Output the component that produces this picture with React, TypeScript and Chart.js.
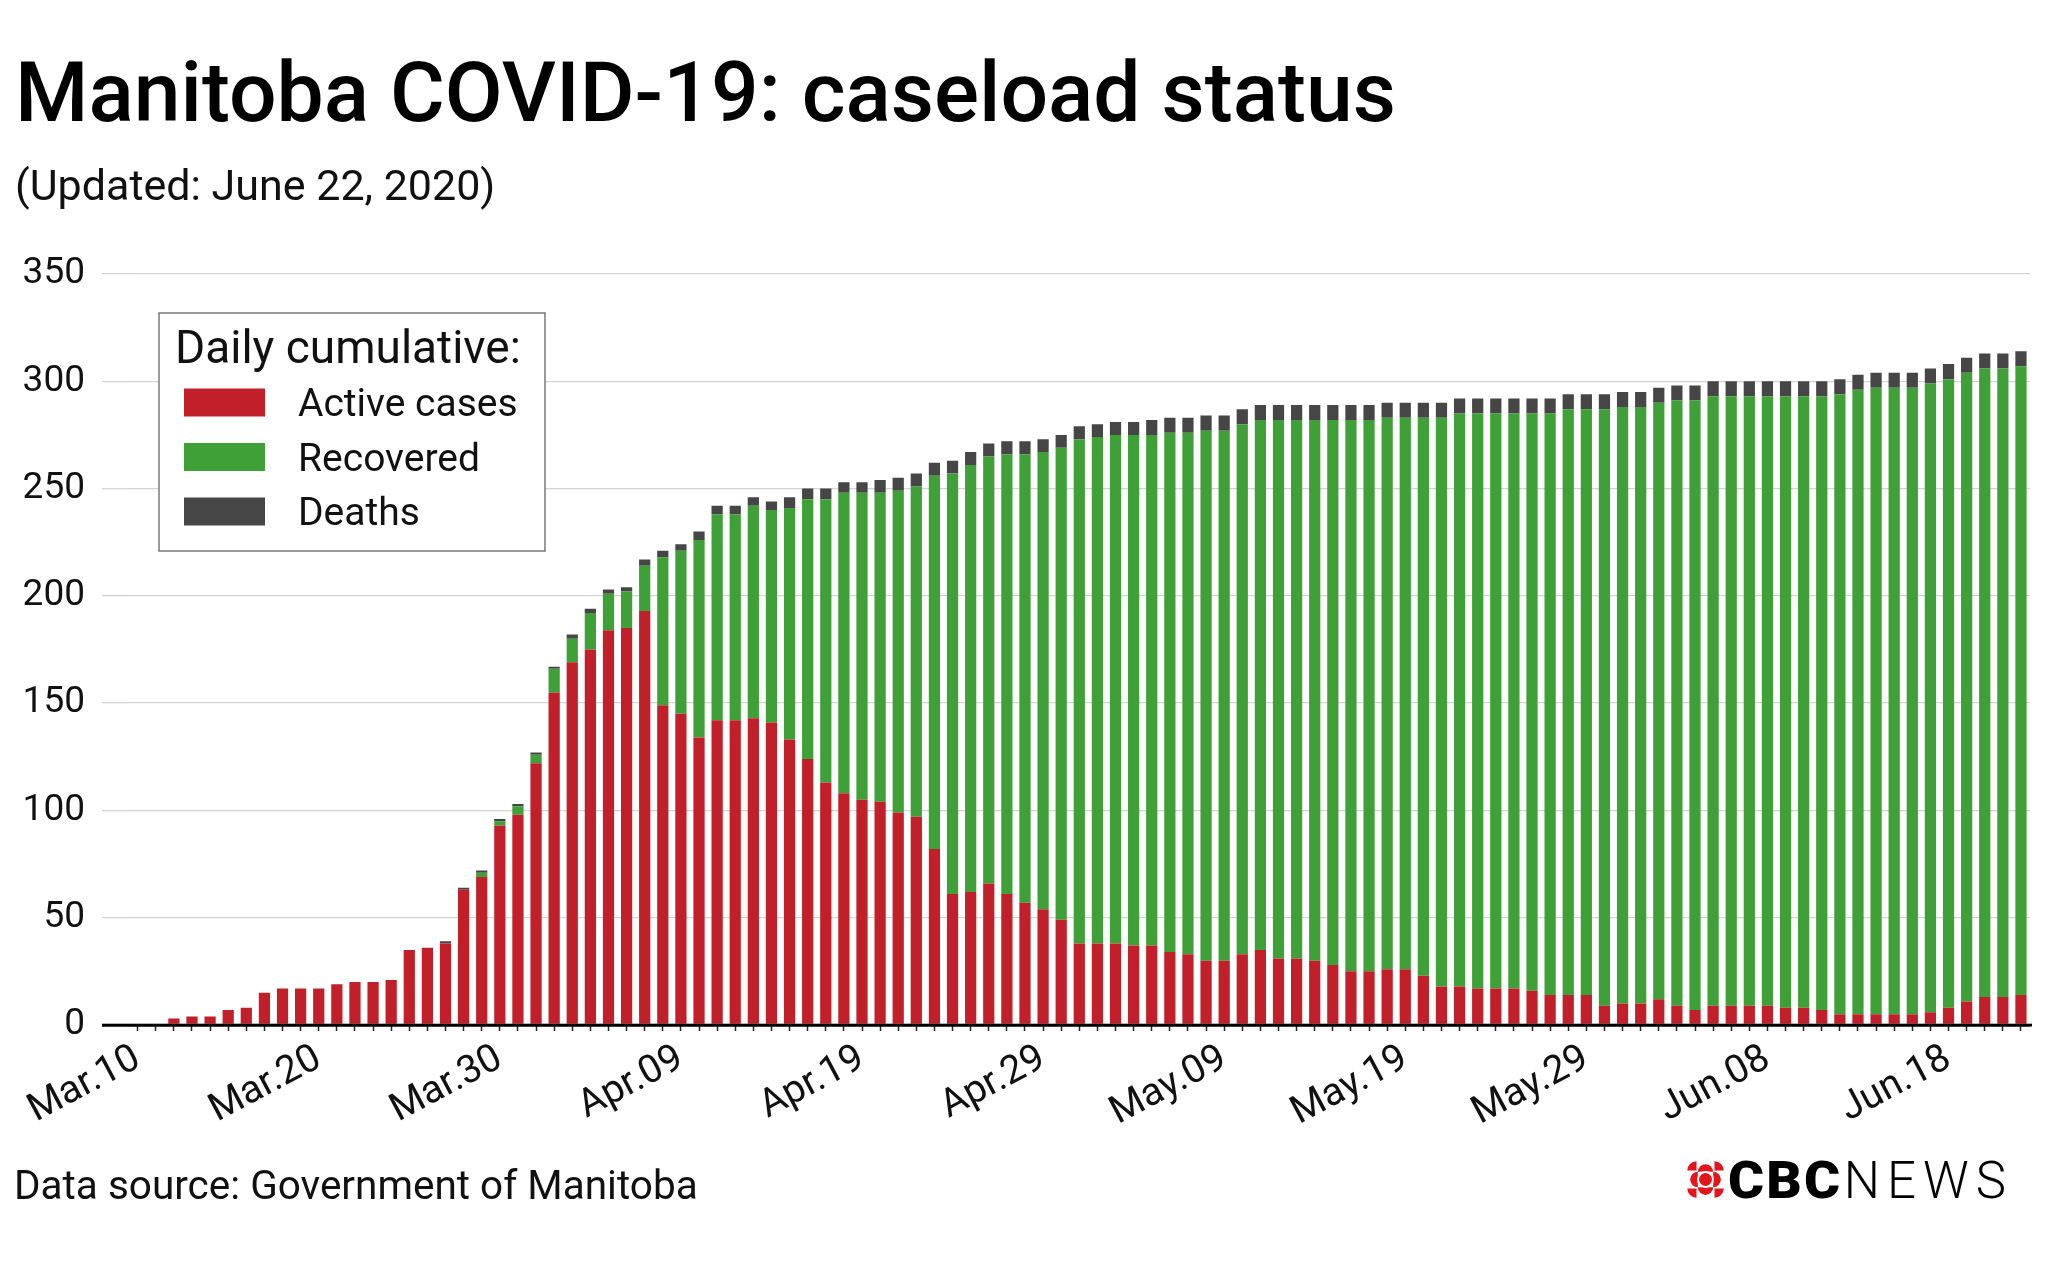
import React, { useEffect, useRef } from 'react';
import { Chart, registerables } from 'chart.js';

Chart.register(...registerables);

const dates: string[] = [
  'Mar.10','Mar.11','Mar.12','Mar.13','Mar.14','Mar.15','Mar.16','Mar.17','Mar.18','Mar.19',
  'Mar.20','Mar.21','Mar.22','Mar.23','Mar.24','Mar.25','Mar.26','Mar.27','Mar.28','Mar.29',
  'Mar.30','Mar.31','Apr.01','Apr.02','Apr.03','Apr.04','Apr.05','Apr.06','Apr.07','Apr.08',
  'Apr.09','Apr.10','Apr.11','Apr.12','Apr.13','Apr.14','Apr.15','Apr.16','Apr.17','Apr.18',
  'Apr.19','Apr.20','Apr.21','Apr.22','Apr.23','Apr.24','Apr.25','Apr.26','Apr.27','Apr.28',
  'Apr.29','Apr.30','May.01','May.02','May.03','May.04','May.05','May.06','May.07','May.08',
  'May.09','May.10','May.11','May.12','May.13','May.14','May.15','May.16','May.17','May.18',
  'May.19','May.20','May.21','May.22','May.23','May.24','May.25','May.26','May.27','May.28',
  'May.29','May.30','May.31','Jun.01','Jun.02','Jun.03','Jun.04','Jun.05','Jun.06','Jun.07',
  'Jun.08','Jun.09','Jun.10','Jun.11','Jun.12','Jun.13','Jun.14','Jun.15','Jun.16','Jun.17',
  'Jun.18','Jun.19','Jun.20','Jun.21','Jun.22',
];

const activeCases: number[] = [
  0, 0, 3, 4, 4, 7, 8, 15, 17, 17,
  17, 19, 20, 20, 21, 35, 36, 38, 63, 69,
  93, 98, 122, 155, 169, 175, 184, 185, 193, 149,
  145, 134, 142, 142, 143, 141, 133, 124, 113, 108,
  105, 104, 99, 97, 82, 61, 62, 66, 61, 57,
  54, 49, 38, 38, 38, 37, 37, 34, 33, 30,
  30, 33, 35, 31, 31, 30, 28, 25, 25, 26,
  26, 23, 18, 18, 17, 17, 17, 16, 14, 14,
  14, 9, 10, 10, 12, 9, 7, 9, 9, 9,
  9, 8, 8, 7, 5, 5, 5, 5, 5, 6,
  8, 11, 13, 13, 14,
];

const recovered: number[] = [
  0, 0, 0, 0, 0, 0, 0, 0, 0, 0,
  0, 0, 0, 0, 0, 0, 0, 0, 0, 2,
  2, 4, 4, 11, 11, 17, 17, 17, 21, 69,
  76, 92, 96, 96, 99, 99, 108, 121, 132, 140,
  143, 144, 150, 154, 174, 196, 199, 199, 205, 209,
  213, 220, 235, 236, 237, 238, 238, 242, 243, 247,
  247, 247, 247, 251, 251, 252, 254, 257, 257, 257,
  257, 260, 265, 267, 268, 268, 268, 269, 271, 273,
  273, 278, 278, 278, 278, 282, 284, 284, 284, 284,
  284, 285, 285, 286, 289, 291, 292, 292, 292, 293,
  293, 293, 293, 293, 293,
];

const deaths: number[] = [
  0, 0, 0, 0, 0, 0, 0, 0, 0, 0,
  0, 0, 0, 0, 0, 0, 0, 1, 1, 1,
  1, 1, 1, 1, 2, 2, 2, 2, 3, 3,
  3, 4, 4, 4, 4, 4, 5, 5, 5, 5,
  5, 6, 6, 6, 6, 6, 6, 6, 6, 6,
  6, 6, 6, 6, 6, 6, 7, 7, 7, 7,
  7, 7, 7, 7, 7, 7, 7, 7, 7, 7,
  7, 7, 7, 7, 7, 7, 7, 7, 7, 7,
  7, 7, 7, 7, 7, 7, 7, 7, 7, 7,
  7, 7, 7, 7, 7, 7, 7, 7, 7, 7,
  7, 7, 7, 7, 7,
];

const seriesNames: string[] = ['Active cases', 'Recovered', 'Deaths'];
const seriesColors: string[] = ['#c1202a', '#3fa037', '#464646'];
const yTicks: number[] = [0, 50, 100, 150, 200, 250, 300, 350];
const labelEvery = 10;

const FONT = 'Roboto, "Noto Sans", sans-serif';

const legendBoxPlugin = {
  id: 'legendBox',
  afterDraw(chart: any) {
    const ctx = chart.ctx as CanvasRenderingContext2D;
    ctx.save();
    const x0 = 159, y0 = 313, w = 386, h = 238;
    ctx.fillStyle = '#ffffff';
    ctx.fillRect(x0, y0, w, h);
    ctx.strokeStyle = '#7a7a7a';
    ctx.lineWidth = 1.5;
    ctx.strokeRect(x0, y0, w, h);
    ctx.fillStyle = '#111';
    ctx.textBaseline = 'alphabetic';
    ctx.textAlign = 'left';
    ctx.font = `46px ${FONT}`;
    ctx.fillText('Daily cumulative:', 175, 363);
    ctx.font = `39px ${FONT}`;
    chart.data.datasets.forEach((ds: any, i: number) => {
      const rowY = 388.5 + i * 54.5;
      ctx.fillStyle = ds.backgroundColor;
      ctx.fillRect(184, rowY, 81, 28);
      ctx.fillStyle = '#111';
      ctx.fillText(ds.label, 298, rowY + 27.5);
    });
    ctx.restore();
  },
};

const zeroLinePlugin = {
  id: 'zeroLine',
  afterDatasetsDraw(chart: any) {
    const ctx = chart.ctx as CanvasRenderingContext2D;
    const y = chart.scales.y.getPixelForValue(0);
    ctx.save();
    ctx.fillStyle = '#000';
    ctx.fillRect(102, y - 1.3, chart.chartArea.right + 2 - 102, 2.8);
    ctx.restore();
  },
};

function ChartCanvas() {
  const ref = useRef<HTMLCanvasElement | null>(null);
  useEffect(() => {
    if (!ref.current) return;
    Chart.defaults.font.family = FONT;
    const chart = new Chart(ref.current, {
      type: 'bar',
      data: {
        labels: dates,
        datasets: [
          { label: seriesNames[0], data: activeCases, backgroundColor: seriesColors[0] },
          { label: seriesNames[1], data: recovered, backgroundColor: seriesColors[1] },
          { label: seriesNames[2], data: deaths, backgroundColor: seriesColors[2] },
        ],
      },
      options: {
        animation: false,
        responsive: false,
        devicePixelRatio: 1,
        layout: { padding: { top: 274, right: 15, bottom: 0, left: 0 } },
        datasets: { bar: { barPercentage: 0.62, categoryPercentage: 1.0, borderWidth: 0 } },
        plugins: {
          legend: { display: false },
          tooltip: { enabled: false },
          title: { display: false },
        },
        scales: {
          x: {
            stacked: true,
            offset: true,
            border: { display: false },
            grid: {
              display: true,
              drawOnChartArea: false,
              drawTicks: true,
              tickLength: 6,
              tickColor: '#222',
              tickWidth: 1.5,
              offset: false,
            },
            ticks: {
              autoSkip: false,
              maxRotation: 28,
              minRotation: 28,
              padding: 5,
              color: '#111',
              font: { size: 39 },
              callback: (_v: any, i: number) => (i % labelEvery === 0 ? dates[i] : ''),
            },
            afterFit: (scale: any) => {
              scale.height = 1269 - 1025;
            },
          },
          y: {
            stacked: true,
            min: yTicks[0],
            max: yTicks[yTicks.length - 1],
            border: { display: false },
            grid: {
              drawTicks: true,
              tickLength: 26.6,
              color: (c: any) => (c.tick && c.tick.value === 0 ? '#000' : '#d4d4d4'),
              lineWidth: (c: any) => (c.tick && c.tick.value === 0 ? 2.5 : 1.3),
            },
            ticks: {
              stepSize: 50,
              padding: 17,
              color: '#111',
              font: { size: 37 },
            },
            afterFit: (scale: any) => {
              scale.width = 128.6;
            },
          },
        },
      },
      plugins: [zeroLinePlugin, legendBoxPlugin],
    } as any);
    return () => chart.destroy();
  }, []);
  return (
    <canvas
      ref={ref}
      width={2048}
      height={1269}
      style={{ position: 'absolute', left: 0, top: 0, width: 2048, height: 1269 }}
    />
  );
}

function CbcGem() {
  const red = '#e3161c';
  return (
    <svg width={41} height={41} viewBox="0 0 40 40" style={{ position: 'absolute', left: 1685, top: 1159 }}>
      <circle cx={20} cy={20} r={6.3} fill={red} />
      <path d="M12.5 12.5 A7.5 7.5 0 0 1 27.5 12.5 Z" fill={red} />
      <path d="M12.5 27.5 A7.5 7.5 0 0 0 27.5 27.5 Z" fill={red} />
      <path d="M12.5 12.5 A7.5 7.5 0 0 0 12.5 27.5 Z" fill={red} />
      <path d="M27.5 12.5 A7.5 7.5 0 0 1 27.5 27.5 Z" fill={red} />
      <path d="M11.2 11.2 L11.2 2.2 A9 9 0 0 0 2.2 11.2 Z" fill={red} />
      <path d="M28.8 11.2 L28.8 2.2 A9 9 0 0 1 37.8 11.2 Z" fill={red} />
      <path d="M11.2 28.8 L11.2 37.8 A9 9 0 0 1 2.2 28.8 Z" fill={red} />
      <path d="M28.8 28.8 L28.8 37.8 A9 9 0 0 0 37.8 28.8 Z" fill={red} />
      <circle cx={20} cy={20} r={7.6} fill="none" stroke="#fff" strokeWidth={1.3} />
    </svg>
  );
}

export default function App() {
  const textBase: React.CSSProperties = {
    position: 'absolute',
    fontFamily: FONT,
    color: '#000',
    lineHeight: 1,
    whiteSpace: 'nowrap',
    margin: 0,
  };
  return (
    <div style={{ position: 'absolute', left: 0, top: 0, width: 2048, height: 1269, background: '#fff', overflow: 'hidden' }}>
      <ChartCanvas />
      <div style={{ ...textBase, left: 15, top: 122 - 0.842 * 84, fontSize: 84, fontWeight: 500 }}>
        Manitoba COVID-19: caseload status
      </div>
      <div style={{ ...textBase, left: 15, top: 200 - 0.842 * 43, fontSize: 43, color: '#111' }}>
        (Updated: June 22, 2020)
      </div>
      <div style={{ ...textBase, left: 14, top: 1199 - 0.842 * 40.5, fontSize: 40.5, color: '#111' }}>
        Data source: Government of Manitoba
      </div>
      <CbcGem />
      <div style={{ ...textBase, left: 1728, top: 1198 - 0.842 * 51, fontSize: 51 }}>
        <span style={{ fontWeight: 900, letterSpacing: 2, display: 'inline-block', transform: 'scaleX(1.08)', transformOrigin: 'left' }}>CBC</span>
        <span style={{ fontWeight: 300, letterSpacing: 7, marginLeft: 10 }}>NEWS</span>
      </div>
    </div>
  );
}
